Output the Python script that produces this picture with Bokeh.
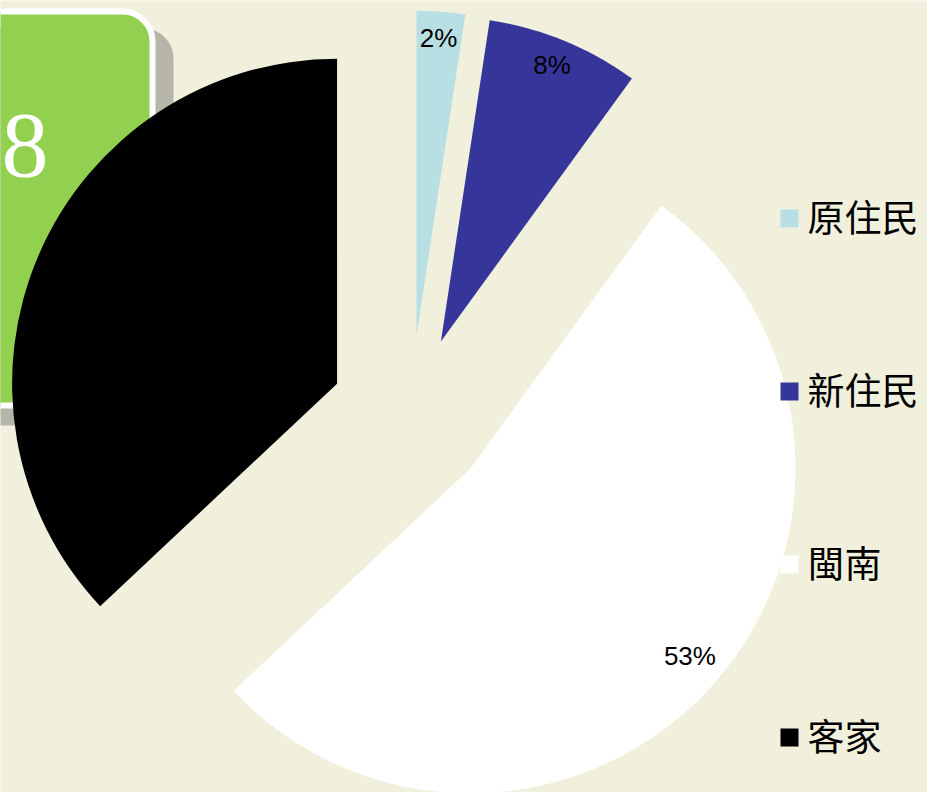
import math
from bokeh.plotting import figure
from bokeh.models import Range1d, BoxAnnotation, ColumnDataSource
from bokeh.core.properties import value
from bokeh.embed import file_html
from bokeh.resources import INLINE

# ---- data ----
categories = ["原住民", "新住民", "閩南", "客家"]
shares = [2.4, 7.6, 53.0, 37.0]
colors = ["#b8e0e4", "#35359a", "#ffffff", "#000000"]
label_colors = ["#000000", "#000000", "#000000", None]  # 客家 label is black-on-black (not visible)

W, H = 927, 792
CX, CY = 410, H - 415      # pie centre
R = 325
EXPLODE = 80
BG = "#f1f0dc"

p = figure(width=W, height=H, output_backend="svg", toolbar_location=None,
           x_range=Range1d(0, W), y_range=Range1d(0, H), min_border=0)
p.axis.visible = False
p.grid.visible = False
p.outline_line_color = None
p.background_fill_color = BG
p.border_fill_color = BG

# slide decoration (green rounded box with shadow)
p.add_layout(BoxAnnotation(left=-60, right=173, top=H - 28, bottom=H - 425,
                           fill_color="#b5b5a9", fill_alpha=1, line_color=None,
                           border_radius=30, level="underlay"))
p.add_layout(BoxAnnotation(left=-60, right=152, top=H - 11, bottom=H - 405,
                           fill_color="#92d050", fill_alpha=1, line_color="#ffffff",
                           line_alpha=1, line_width=6, border_radius=30, level="underlay"))
p.text(x=[1], y=[H - 145], text=["8"], text_color="#ffffff",
       text_font=value("Liberation Serif"), text_font_size="94px",
       text_align="left", text_baseline="middle")

# ---- exploded pie ----
total = sum(shares)
xs, ys, starts, ends, lx, ly, labels, lcols = [], [], [], [], [], [], [], []
cum = 0.0
for cat, s, lc in zip(categories, shares, label_colors):
    f0 = cum / total
    f1 = (cum + s) / total
    cum += s
    a0 = math.pi / 2 - 2 * math.pi * f0
    a1 = math.pi / 2 - 2 * math.pi * f1
    am = (a0 + a1) / 2
    cx = CX + EXPLODE * math.cos(am)
    cy = CY + EXPLODE * math.sin(am)
    xs.append(cx); ys.append(cy); starts.append(a0); ends.append(a1)
    if lc is not None:
        lx.append(cx + 0.9 * R * math.cos(am))
        ly.append(cy + 0.9 * R * math.sin(am))
        labels.append(f"{round(s):d}%")
        lcols.append(lc)

src = ColumnDataSource(dict(x=xs, y=ys, start=starts, end=ends, color=colors, cat=categories))
p.wedge(x="x", y="y", radius=R, start_angle="start", end_angle="end",
        direction="clock", fill_color="color", line_color=None, source=src)

p.text(x=lx, y=ly, text=labels, text_color=lcols,
       text_font=value("Liberation Sans"), text_font_size="26px",
       text_align="center", text_baseline="middle", y_offset=-6)

# ---- legend (drawn as glyphs) ----
LEG_TOP = H - 218
LEG_STEP = 173
leg_y = [LEG_TOP - i * LEG_STEP for i in range(len(categories))]
p.rect(x=[789] * len(categories), y=leg_y, width=18, height=18,
       fill_color=colors, line_color=None)
p.text(x=[807] * len(categories), y=leg_y, text=categories, text_color="#000000",
       text_font=value("Noto Sans CJK TC"), text_font_size="37px",
       text_align="left", text_baseline="middle", y_offset=-3)

open("out.html", "w").write(file_html(p, INLINE))
